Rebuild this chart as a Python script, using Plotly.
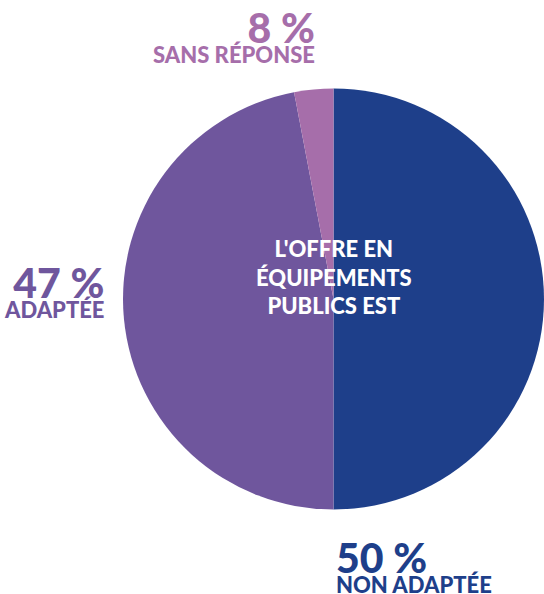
import plotly.graph_objects as go

categories = ["NON ADAPTÉE", "ADAPTÉE", "SANS RÉPONSE"]
values = [50, 47, 3]
pct_labels = ["50 %", "47 %", "8 %"]
colors = ["#1E3F8A", "#6F569D", "#A66EAA"]
center_text = "L'OFFRE EN<br>ÉQUIPEMENTS<br>PUBLICS EST"

W, H = 544, 594
FONT = "Lato"

fig = go.Figure(go.Pie(
    labels=categories, values=values, sort=False, direction="clockwise",
    rotation=0, textinfo="none", hoverinfo="label+percent",
    marker=dict(colors=colors, line=dict(width=0)),
    domain=dict(x=[(334 - 211) / W, 1.0], y=[(594 - 510) / H, (594 - 88) / H]),
    showlegend=False,
))

def px(x):
    return x / W

def py(y):
    return 1 - y / H

anns = []
# (x px, block center px, xanchor)
pos = {
    0: (335, 565, "left"),
    1: (105, 291, "right"),
    2: (316, 36, "right"),
}
for i, (x, yc, xa) in pos.items():
    txt = (f"<span style='font-size:41px;font-weight:900'>{pct_labels[i]}</span><br>"
           f"<span style='font-size:22px;font-weight:900'>{categories[i]}</span>")
    anns.append(dict(x=px(x), y=py(yc), xref="paper", yref="paper",
                     text=txt, showarrow=False, align=xa,
                     xanchor=xa, yanchor="middle", borderpad=0,
                     font=dict(family=FONT, size=15, color=colors[i], weight="bold")))

anns.append(dict(x=px(334), y=py(277), xref="paper", yref="paper",
                 text=center_text, showarrow=False,
                 xanchor="center", yanchor="middle", align="center",
                 font=dict(family=FONT, size=22, color="white", weight=900)))

fig.update_layout(
    width=W, height=H, margin=dict(l=0, r=0, t=0, b=0),
    paper_bgcolor="white", plot_bgcolor="white",
    annotations=anns,
)
fig.write_html("out.html", config={"displayModeBar": False},
               post_script="document.body.style.margin='0';")
